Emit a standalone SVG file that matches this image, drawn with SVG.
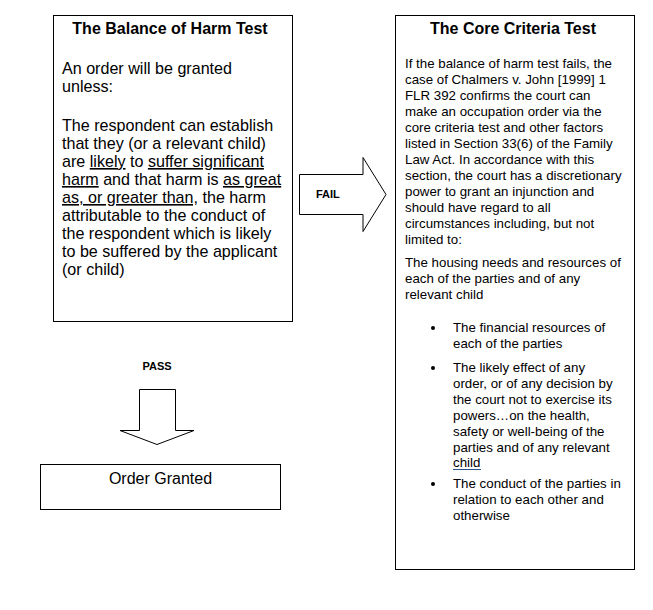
<svg xmlns="http://www.w3.org/2000/svg" width="653" height="610" viewBox="0 0 653 610">
<style>
.box{fill:#fff;stroke:#000;stroke-width:1}
.arrow{fill:#fff;stroke:#000;stroke-width:1}
.title{font-family:"Liberation Sans",Arial,sans-serif;font-weight:bold;font-size:16px;fill:#000;text-anchor:middle}
.big{font-family:"Liberation Sans",Arial,sans-serif;font-size:16.1px;fill:#000}
.small{font-family:"Liberation Sans",Arial,sans-serif;font-size:13.3px;fill:#000}
.lbl{font-family:"Liberation Sans",Arial,sans-serif;font-weight:bold;font-size:11px;fill:#000}
.u{text-decoration:underline}
</style>
<rect width="653" height="610" fill="#fff"/>
<g id="connectors">
  <g id="fail-arrow">
    <polygon class="arrow" points="299.5,174.5 363,174.5 363,157.5 386,194.5 363,231.5 363,214.5 299.5,214.5"/>
    <text class="lbl" x="316" y="198">FAIL</text>
  </g>
  <g id="pass-arrow">
    <text class="lbl" x="157" y="370" text-anchor="middle">PASS</text>
    <polygon class="arrow" points="139.5,389.5 175.5,389.5 175.5,430.5 194,430.5 157,444.5 120,430.5 139.5,430.5"/>
  </g>
</g>
<g id="balance-test">
  <rect class="box" x="53.5" y="15.5" width="239" height="306"/>
  <text class="title" x="170" y="34">The Balance of Harm Test</text>
  <text class="big" x="62" y="74">An order will be granted</text>
  <text class="big" x="62" y="91.5">unless:</text>
  <text class="big" x="62" y="131">The respondent can establish</text>
  <text class="big" x="62" y="149">that they (or a relevant child)</text>
  <text class="big" x="62" y="167">are <tspan class="u">likely</tspan> to <tspan class="u">suffer significant</tspan></text>
  <text class="big" x="62" y="185"><tspan class="u">harm</tspan> and that harm is <tspan class="u">as great</tspan></text>
  <text class="big" x="62" y="203"><tspan class="u">as, or greater than,</tspan> the harm</text>
  <text class="big" x="62" y="221">attributable to the conduct of</text>
  <text class="big" x="62" y="239">the respondent which is likely</text>
  <text class="big" x="62" y="257">to be suffered by the applicant</text>
  <text class="big" x="62" y="275">(or child)</text>
</g>
<g id="core-test">
  <rect class="box" x="395.5" y="15.5" width="239" height="554"/>
  <text class="title" x="513" y="34">The Core Criteria Test</text>
  <text class="small" x="405" y="68">If the balance of harm test fails, the</text>
  <text class="small" x="405" y="84">case of Chalmers v. John [1999] 1</text>
  <text class="small" x="405" y="100">FLR 392 confirms the court can</text>
  <text class="small" x="405" y="116">make an occupation order via the</text>
  <text class="small" x="405" y="132">core criteria test and other factors</text>
  <text class="small" x="405" y="148">listed in Section 33(6) of the Family</text>
  <text class="small" x="405" y="164">Law Act. In accordance with this</text>
  <text class="small" x="405" y="180">section, the court has a discretionary</text>
  <text class="small" x="405" y="196">power to grant an injunction and</text>
  <text class="small" x="405" y="212">should have regard to all</text>
  <text class="small" x="405" y="228">circumstances including, but not</text>
  <text class="small" x="405" y="244">limited to:</text>
  <text class="small" x="405" y="267">The housing needs and resources of</text>
  <text class="small" x="405" y="283">each of the parties and of any</text>
  <text class="small" x="405" y="299">relevant child</text>
  <circle cx="433" cy="328" r="2"/>
  <text class="small" x="453" y="332">The financial resources of</text>
  <text class="small" x="453" y="348">each of the parties</text>
  <circle cx="433" cy="368" r="2"/>
  <text class="small" x="453" y="372">The likely effect of any</text>
  <text class="small" x="453" y="388">order, or of any decision by</text>
  <text class="small" x="453" y="404">the court not to exercise its</text>
  <text class="small" x="453" y="420">powers…on the health,</text>
  <text class="small" x="453" y="436">safety or well-being of the</text>
  <text class="small" x="453" y="452">parties and of any relevant</text>
  <text class="small" x="453" y="467">child</text>
  <line x1="453" y1="469.5" x2="481" y2="469.5" stroke="#2f4f8f" stroke-width="1"/>
  <circle cx="433" cy="484" r="2"/>
  <text class="small" x="453" y="488">The conduct of the parties in</text>
  <text class="small" x="453" y="504">relation to each other and</text>
  <text class="small" x="453" y="520">otherwise</text>
</g>
<g id="order-granted">
  <rect class="box" x="40.5" y="464.5" width="240" height="45"/>
  <text class="big" x="160.5" y="484" text-anchor="middle" style="font-size:16px">Order Granted</text>
</g>
</svg>
